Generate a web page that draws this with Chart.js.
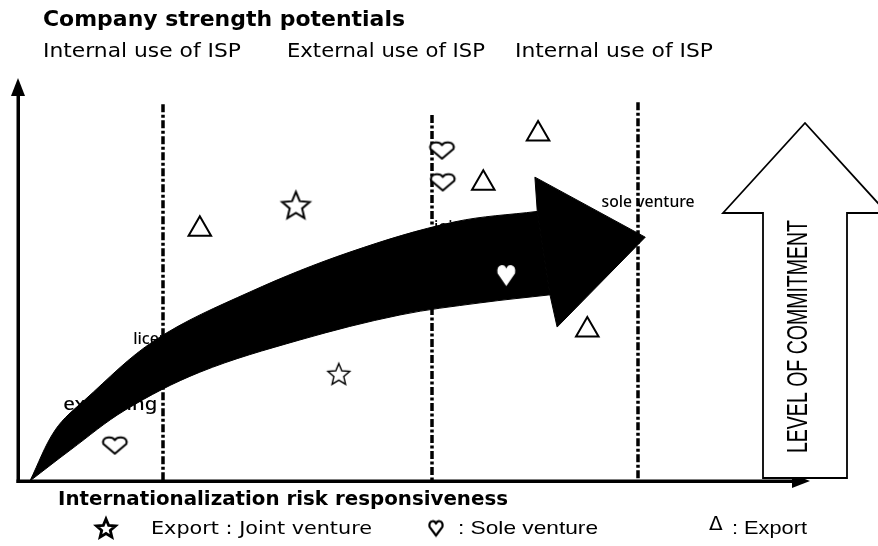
<!DOCTYPE html>
<html>
<head>
<meta charset="utf-8">
<script src="https://cdn.jsdelivr.net/npm/chart.js@4.4.1/dist/chart.umd.min.js"></script>
<style>
  html, body { margin: 0; padding: 0; background: #fff; }
  #diagram { display: block; }
</style>
</head>
<body>
<canvas id="diagram" width="878" height="546"></canvas>
<script>
// both axes run 0-100 (risk responsiveness / company strength)
const stageNames = ['exporting', 'licensing', 'joint venture', 'sole venture'];
const stageX = [5.7, 14.5, 52.4, 73.5];
const stageY = [18.9, 35.2, 62.8, 69.2];

const ispLabels = ['Internal use of ISP', 'External use of ISP', 'Internal use of ISP'];
const dividerX = [18.3, 52.1, 78.1];
const dividerTop = [93.5, 90.8, 94.0];

const jointX = [35.0, 40.4];
const jointY = [68.5, 26.6];
const soleX = [12.2, 53.4, 53.5, 61.5];
const soleY = [8.9, 82.1, 74.2, 51.1];
const exportX = [22.9, 58.6, 65.5, 71.7];
const exportY = [62.5, 73.9, 86.1, 37.5];

// the big black path arrow: upper edge, lower edge (back to the tail), head
const pathTopX = [1.5, 4.7, 8.4, 17.3, 29.2, 41.8, 55.0, 65.4];
const pathTopY = [0, 12.7, 20.1, 35.0, 46.9, 56.8, 64.3, 66.9];
const pathBotX = [67.0, 58.2, 48.1, 35.5, 22.9, 13.5, 6.6, 1.5];
const pathBotY = [46.2, 44.2, 41.2, 35.0, 27.0, 17.6, 7.7, 0];
const headX = [65.4, 65.1, 79.0, 67.9, 67.0, 65.4];
const headY = [66.9, 75.4, 60.5, 38.2, 46.2, 66.9];

const xy = (xs, ys) => xs.map((x, i) => ({ x: x, y: ys[i] }));
// repeat the end points so the spline keeps sharp corners there
const sharpEnds = pts => [pts[0]].concat(pts, [pts[pts.length - 1]]);

function starImage(r, lw) {
  const s = Math.ceil(2 * r + lw * 2 + 2);
  const c = document.createElement('canvas');
  c.width = c.height = s;
  const g = c.getContext('2d');
  g.translate(s / 2, s / 2 + r * 0.1);
  g.beginPath();
  for (let i = 0; i < 10; i++) {
    const a = -Math.PI / 2 + i * Math.PI / 5;
    const rr = i % 2 ? r * 0.45 : r;
    g.lineTo(Math.cos(a) * rr, Math.sin(a) * rr);
  }
  g.closePath();
  g.fillStyle = '#fff';
  g.fill();
  g.lineWidth = lw;
  g.strokeStyle = '#000';
  g.stroke();
  return c;
}

function heartImage(w, h, lw, fill, stroke) {
  const c = document.createElement('canvas');
  c.width = w + 4;
  c.height = h + 4;
  const g = c.getContext('2d');
  g.translate(2, 2);
  g.beginPath();
  g.moveTo(w * 0.5, h);
  g.lineTo(w * 0.04, h * 0.42);
  g.quadraticCurveTo(-w * 0.02, h * 0.1, w * 0.24, h * 0.05);
  g.quadraticCurveTo(w * 0.42, h * 0.02, w * 0.5, h * 0.2);
  g.quadraticCurveTo(w * 0.58, h * 0.02, w * 0.76, h * 0.05);
  g.quadraticCurveTo(w * 1.02, h * 0.1, w * 0.96, h * 0.42);
  g.closePath();
  g.fillStyle = fill;
  g.fill();
  if (stroke) {
    g.lineWidth = lw;
    g.lineJoin = 'round';
    g.strokeStyle = stroke;
    g.stroke();
  }
  return c;
}

const starBig = starImage(14.5, 2);
const starSmall = starImage(11.5, 1.4);
const heartOpen = heartImage(25, 17, 2, '#fff', '#000');
const heartWhite = heartImage(19, 22, 0, '#fff', null);
const legendStar = starImage(10, 2.8);
const legendHeart = heartImage(14, 15, 2.2, '#fff', '#000');

function drawText(ctx, text, x, y, size, width, weight, family) {
  ctx.save();
  ctx.font = (weight ? weight + ' ' : '') + size + 'px ' + family;
  ctx.textAlign = 'left';
  ctx.textBaseline = 'middle';
  ctx.fillStyle = '#000';
  ctx.translate(x, y);
  if (width) ctx.scale(width / ctx.measureText(text).width, 1);
  ctx.fillText(text, 0, 0);
  ctx.restore();
}

const diagramPlugin = {
  id: 'diagram',
  beforeDatasetsDraw(chart) {
    const { ctx, chartArea, scales: { x, y } } = chart;
    // stage names sit under the big arrow
    const stageWidth = [94, null, null, 93];
    stageNames.forEach((name, i) => {
      drawText(ctx, name, x.getPixelForValue(stageX[i]), y.getPixelForValue(stageY[i]),
        i === 0 ? 18 : 16, stageWidth[i], '500', '"Noto Sans"');
    });
    ctx.save();
    ctx.strokeStyle = '#000';
    ctx.lineWidth = 3.5;
    ctx.setLineDash([8, 2.5, 3, 2.5]);
    dividerX.forEach((v, i) => {
      const px = Math.round(x.getPixelForValue(v));
      ctx.beginPath();
      ctx.moveTo(px, y.getPixelForValue(dividerTop[i]));
      ctx.lineTo(px, chartArea.bottom);
      ctx.stroke();
    });
    ctx.restore();
  },
  afterDatasetsDraw(chart) {
    const { ctx, chartArea: a } = chart;
    ctx.save();
    ctx.fillStyle = '#000';
    ctx.fillRect(a.left - 1.5, a.top + 12, 3.5, a.bottom - a.top - 10);
    ctx.fillRect(a.left - 1.5, a.bottom - 1.5, a.right - a.left - 14, 3.5);
    ctx.beginPath();
    ctx.moveTo(a.left, a.top);
    ctx.lineTo(a.left - 7, a.top + 18);
    ctx.lineTo(a.left + 7, a.top + 18);
    ctx.closePath();
    ctx.fill();
    ctx.beginPath();
    ctx.moveTo(a.right - 2, a.bottom);
    ctx.lineTo(a.right - 20, a.bottom - 7);
    ctx.lineTo(a.right - 20, a.bottom + 7);
    ctx.closePath();
    ctx.fill();
    ctx.restore();
  },
  afterDraw(chart) {
    const { ctx, chartArea: a } = chart;
    const sans = '"DejaVu Sans"';
    const narrow = '"Liberation Sans Narrow", "Liberation Sans"';
    drawText(ctx, 'Company strength potentials', 43, 20, 22, 362, 'bold', sans);
    const ispLeft = [43, 287, 515];
    ispLabels.forEach((t, i) => drawText(ctx, t, ispLeft[i], 52, 20, 198, '', sans));

    drawText(ctx, 'Internationalization risk responsiveness', 58, 500, 19, 450, 'bold', sans);
    ctx.drawImage(legendStar, 106 - legendStar.width / 2, 528 - legendStar.height / 2);
    drawText(ctx, 'Export : Joint venture', 151, 529, 18, 221, '', sans);
    ctx.drawImage(legendHeart, 436 - legendHeart.width / 2, 528 - legendHeart.height / 2);
    drawText(ctx, ': Sole venture', 458, 529, 19, 140, '', narrow);
    drawText(ctx, 'Δ', 709, 525, 20, null, '', sans);
    drawText(ctx, ': Export', 732, 529, 19, 75, '', narrow);

    // level-of-commitment block arrow on the right
    const cx = 805, half = 42, barb = 82, shoulder = 213, tip = 123, bottom = a.bottom - 3;
    ctx.save();
    ctx.beginPath();
    ctx.moveTo(cx - half, bottom);
    ctx.lineTo(cx - half, shoulder);
    ctx.lineTo(cx - barb, shoulder);
    ctx.lineTo(cx, tip);
    ctx.lineTo(cx + barb, shoulder);
    ctx.lineTo(cx + half, shoulder);
    ctx.lineTo(cx + half, bottom);
    ctx.closePath();
    ctx.fillStyle = '#fff';
    ctx.fill();
    ctx.lineWidth = 1.8;
    ctx.strokeStyle = '#000';
    ctx.stroke();
    ctx.translate(cx - 6, 453);
    ctx.rotate(-Math.PI / 2);
    ctx.font = '29px ' + narrow;
    ctx.textBaseline = 'middle';
    ctx.fillStyle = '#000';
    ctx.scale(233 / ctx.measureText('LEVEL OF COMMITMENT').width, 1);
    ctx.fillText('LEVEL OF COMMITMENT', 0, 0);
    ctx.restore();
  }
};

new Chart(document.getElementById('diagram'), {
  type: 'scatter',
  data: {
    datasets: [{
      label: 'Export : Joint venture',
      data: xy(jointX, jointY),
      pointStyle: [starBig, starSmall],
      order: 1
    }, {
      label: ': Sole venture',
      data: xy(soleX, soleY),
      pointStyle: [heartOpen, heartOpen, heartOpen, heartWhite],
      order: 1
    }, {
      label: ': Export',
      data: xy(exportX, exportY),
      pointStyle: 'triangle',
      pointRadius: 13,
      backgroundColor: '#fff',
      borderColor: '#000',
      borderWidth: 2,
      order: 1
    }, {
      type: 'line',
      label: 'path',
      data: sharpEnds(xy(pathTopX, pathTopY)).concat(sharpEnds(xy(pathBotX, pathBotY))),
      fill: 'shape',
      backgroundColor: '#000',
      borderColor: '#000',
      borderWidth: 1,
      pointRadius: 0,
      tension: 0.35,
      clip: false,
      order: 5
    }, {
      type: 'line',
      label: 'head',
      data: xy(headX, headY),
      fill: 'shape',
      backgroundColor: '#000',
      borderColor: '#000',
      borderWidth: 1,
      pointRadius: 0,
      tension: 0,
      clip: false,
      order: 5
    }]
  },
  options: {
    responsive: false,
    animation: false,
    devicePixelRatio: 1,
    events: [],
    layout: { padding: { left: 18, right: 66, top: 78, bottom: 65 } },
    scales: {
      x: { type: 'linear', min: 0, max: 100, display: false },
      y: { type: 'linear', min: 0, max: 100, display: false }
    },
    plugins: {
      legend: { display: false },
      tooltip: { enabled: false }
    }
  },
  plugins: [diagramPlugin]
});
</script>
</body>
</html>
